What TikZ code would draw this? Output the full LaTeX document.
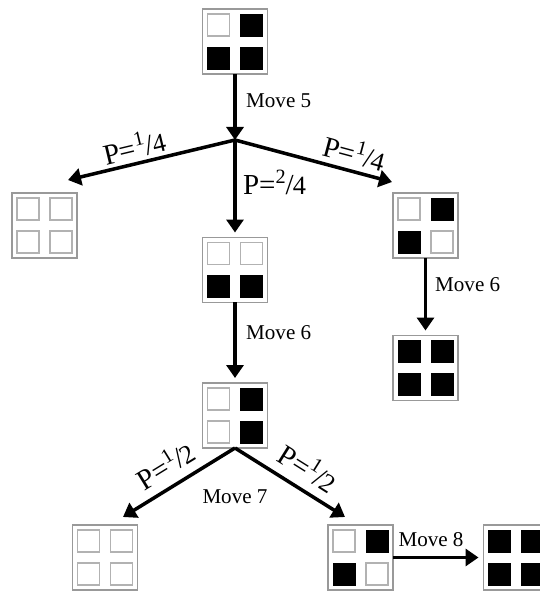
\documentclass[tikz,border=0pt]{standalone}
\usepackage{fontspec}
\setmainfont{Liberation Serif}
\usepackage{tikz}
\usetikzlibrary{arrows.meta}
\usetikzlibrary{calc}
\usetikzlibrary{positioning}

% one board: name, centre, then the four squares (tl, tr, bl, br)
\newcommand{\board}[6]{%
  \node[brd] (#1) at (#2) {};
  \node[#3] (#1-tl) at ($(#1)+(-16.5,16.5)$) {};
  \node[#4] (#1-tr) at ($(#1)+(16.5,16.5)$) {};
  \node[#5] (#1-bl) at ($(#1)+(-16.5,-16.5)$) {};
  \node[#6] (#1-br) at ($(#1)+(16.5,-16.5)$) {};
}
\newcommand{\prob}[2]{P=\textsuperscript{#1}\kern-0.5pt/\kern-0.5pt{\fontsize{15}{16}\selectfont#2}}

\begin{document}
\begin{tikzpicture}[x=0.02cm,y=0.02cm,>={Triangle[width=0.34cm,length=0.26cm]}]
	\tikzstyle{brd}=[draw=gray!80, line width=0.9pt, minimum size=1.3cm, inner sep=0pt, outer sep=0pt]
	\tikzstyle{wsq}=[draw=gray!60, line width=0.7pt, fill=white, minimum size=0.44cm, inner sep=0pt]
	\tikzstyle{bsq}=[draw=black, fill=black, minimum size=0.44cm, inner sep=0pt]
	\tikzstyle{arr}=[->, line width=2pt]
	\tikzstyle{mv}=[font=\fontsize{12}{14}\selectfont]
	\tikzstyle{pr}=[font=\fontsize{16.5}{19}\selectfont, inner sep=1pt]
	\useasboundingbox (0,0) rectangle (540,592);

	\board{b5}{235,550.5}{wsq}{bsq}{bsq}{bsq}
	\board{b6l}{44.5,366.5}{wsq}{wsq}{wsq}{wsq}
	\board{b6m}{235,322}{wsq}{wsq}{bsq}{bsq}
	\board{b6r}{425.5,366.5}{wsq}{bsq}{bsq}{wsq}
	\board{b7r}{425.5,224}{bsq}{bsq}{bsq}{bsq}
	\board{b7}{235,176.5}{wsq}{bsq}{wsq}{bsq}
	\board{b8l}{105,34.5}{wsq}{wsq}{wsq}{wsq}
	\board{b8m}{360.5,34.5}{wsq}{bsq}{bsq}{wsq}
	\board{b9}{516,34.5}{bsq}{bsq}{bsq}{bsq}

	\coordinate (split) at (235,452);
	\coordinate (tipL) at (68,412);
	\coordinate (tipR) at (392,410);
	\coordinate (tipBL) at (123,75);
	\coordinate (tipBR) at (345,75);

	% move 5 and the three chances
	\draw[arr] (b5) -- (split);
	\node[mv, anchor=west] (m5) at (240,491) {Move 5};
	\draw[arr] (split) -- node[pr, sloped, above=1pt, pos=0.58] (pl) {\prob{1}{4}} (tipL);
	\draw[arr] (split) -- node[pr, sloped, above=2pt, pos=0.73] (pr) {\prob{1}{4}} (tipR);
	\draw[arr, shorten >=0.1cm] (split) -- (b6m);
	\node[pr, anchor=west] (pm) at (241,410) {\prob{2}{4}};

	% move 6
	\draw[arr, shorten >=0.1cm] (b6m) -- (b7);
	\node[mv, anchor=west] (m6) at (240,259) {Move 6};
	\draw[arr, shorten >=0.1cm] (b6r) -- (b7r);
	\node[mv, anchor=west] (m6r) at (429,307) {Move 6};

	% move 7
	\draw[arr] (b7.south) -- node[pr, sloped, above=4pt, pos=0.52] (ql) {\prob{1}{2}} (tipBL);
	\draw[arr] (b7.south) -- node[pr, sloped, above=4pt, pos=0.56] (qr) {\prob{1}{2}} (tipBR);
	\node[mv] (m7) at (235,95) {Move 7};

	% move 8
	\draw[arr, shorten >=0.1cm] (b8m) -- node[mv, above=2pt, pos=0.42] (m8) {Move 8} (b9);
\end{tikzpicture}
\end{document}
